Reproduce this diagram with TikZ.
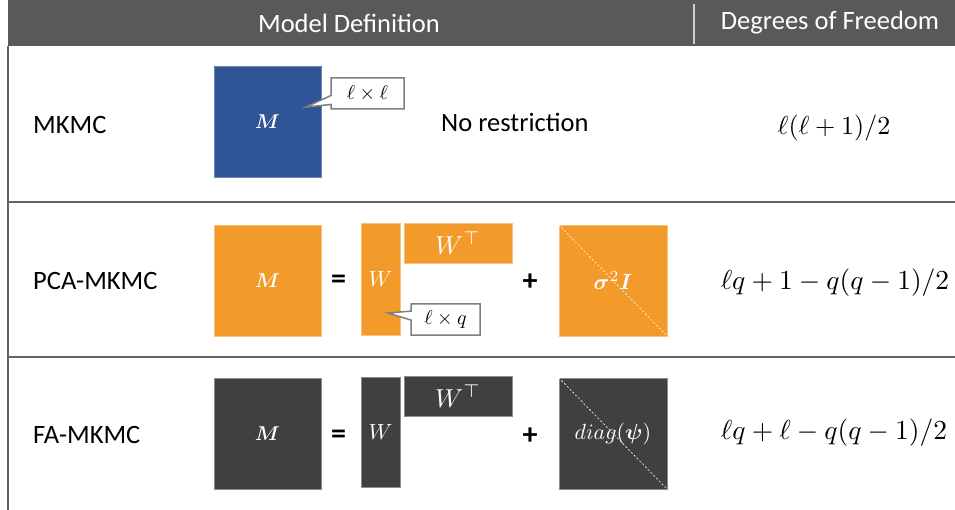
\documentclass[tikz,border=0pt]{standalone}
\usepackage{amsmath}
\usepackage{bm}
\usepackage{graphicx}
\usepackage{fontspec}
\setmainfont{Carlito}
\usetikzlibrary{shapes.callouts}

\definecolor{hdrgray}{HTML}{595959}
\definecolor{rulegray}{HTML}{646464}
\definecolor{mkblue}{HTML}{2F5597}
\definecolor{mkorange}{HTML}{F29A2A}
\definecolor{mkdark}{HTML}{404040}
\definecolor{callgray}{HTML}{7F7F7F}

\newcommand\lbltxt{\fontsize{26.5}{31}\selectfont}
\newcommand\opstxt{\fontsize{30}{34}\selectfont\bfseries}
% math set at 10pt and scaled up to the wanted size
\newcommand\mth[2]{\scalebox{#1}{$#2$}}

\tikzset{
  hdrtext/.style={text=white, font=\lbltxt, inner sep=0},
  rowlabel/.style={anchor=west, font=\lbltxt, inner sep=0},
  doftext/.style={inner sep=0},
  blk/.style={inner sep=0, text=white, line width=0.8},
  opsign/.style={font=\opstxt, inner sep=0},
  diagline/.style={white, line width=0.6, dash pattern=on 2pt off 2pt},
  dimbox/.style={rectangle callout, draw=callgray, fill=white, line width=1.5,
    inner sep=0, minimum height=31, callout pointer width=9},
  hline/.style={rulegray, line width=2}
}

\begin{document}
\begin{tikzpicture}[x=1pt, y=-1pt]
\useasboundingbox (0,0) rectangle (955,510);

% header bar
\fill[hdrgray] (8,0) rectangle (955,46);
\node[hdrtext] (hdef) at (349,23) {Model Definition};
\node[hdrtext] (hdof) at (830,23) {Degrees of Freedom};
\draw[white!70!hdrgray, line width=1.2] (694,4) -- (694,44);

% table rules
\draw[rulegray, line width=1.5] (8,46) -- (8,510);
\draw[hline] (8,202) -- (955,202);
\draw[hline] (8,357) -- (955,357);

% ---- MKMC ----
\node[rowlabel] (l1) at (33,125) {MKMC};
\node[blk, fill=mkblue, draw=mkblue!70!white, minimum width=107, minimum height=111]
  (m1) at (267.5,121.5) {\mth{2.0}{\bm{M}}};
\node[dimbox, minimum width=73, callout absolute pointer={(306,107)}]
  (c1) at (367.5,93.5) {\mth{2.0}{\ell\times\ell}};
\node[anchor=west, font=\lbltxt, inner sep=0] (nr) at (441,122) {No restriction};
\node[doftext] (d1) at (834,128) {\mth{2.6}{\ell(\ell+1)/2}};

% ---- PCA-MKMC ----
\node[rowlabel] (l2) at (33,281) {PCA-MKMC};
\node[blk, fill=mkorange, draw=mkorange!60!white, minimum width=107, minimum height=111]
  (m2) at (267.5,280.5) {\mth{2.0}{\bm{M}}};
\node[opsign] (eq2) at (338.5,282) {=};
\node[blk, fill=mkorange, draw=mkorange!60!white, minimum width=39, minimum height=112]
  (w2) at (380.5,279) {\mth{2.2}{W}};
\node[blk, fill=mkorange, draw=mkorange!60!white, minimum width=108, minimum height=40]
  (wt2) at (458,243) {\mth{2.6}{W^{\top}}};
\node[dimbox, minimum width=69, callout absolute pointer={(388,313)}]
  (c2) at (445.5,319.5) {\mth{2.0}{\ell\times q}};
\node[opsign] (pl2) at (530,282) {+};
\node[blk, fill=mkorange, draw=mkorange!60!white, minimum width=108, minimum height=111]
  (s2) at (613,280.5) {};
\draw[diagline] (s2.north west) -- (s2.south east);
\node[text=white, inner sep=0] (s2t) at (s2.center) {\mth{2.2}{\bm{\sigma}^2\bm{I}}};
\node[doftext] (d2) at (835,283) {\mth{2.75}{\ell q+1-q(q-1)/2}};

% ---- FA-MKMC ----
\node[rowlabel] (l3) at (33,435) {FA-MKMC};
\node[blk, fill=mkdark, draw=mkdark!60!white, minimum width=107, minimum height=111]
  (m3) at (267.5,433.5) {\mth{2.0}{\bm{M}}};
\node[opsign] (eq3) at (338.5,437) {=};
\node[blk, fill=mkdark, draw=mkdark!60!white, minimum width=39, minimum height=110]
  (w3) at (380.5,432) {\mth{2.2}{W}};
\node[blk, fill=mkdark, draw=mkdark!60!white, minimum width=108, minimum height=40]
  (wt3) at (458,396) {\mth{2.6}{W^{\top}}};
\node[opsign] (pl3) at (530,436) {+};
\node[blk, fill=mkdark, draw=mkdark!60!white, minimum width=108, minimum height=111]
  (s3) at (613,433.5) {};
\draw[diagline] (s3.north west) -- (s3.south east);
\node[text=white, inner sep=0] (s3t) at (s3.center) {\mth{2.2}{diag(\bm{\psi})}};
\node[doftext] (d3) at (834,433) {\mth{2.75}{\ell q+\ell-q(q-1)/2}};
\end{tikzpicture}
\end{document}
